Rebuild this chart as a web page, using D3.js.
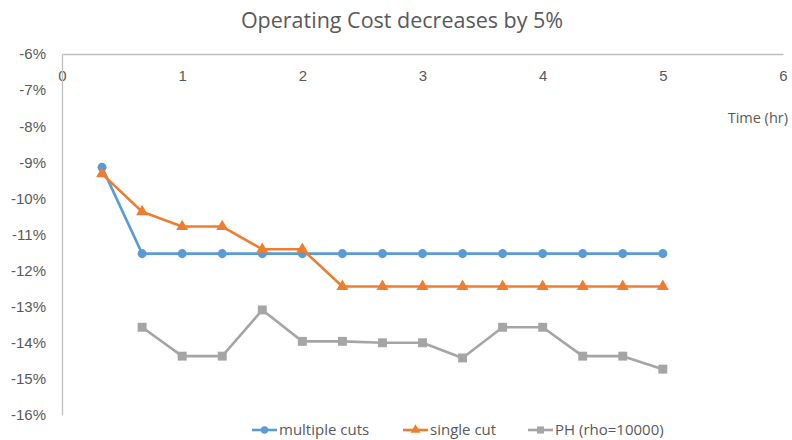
<!DOCTYPE html>
<html>
<head>
<meta charset="utf-8">
<script src="https://cdn.jsdelivr.net/npm/d3@7/dist/d3.min.js"></script>
<style>
  html, body { margin: 0; padding: 0; background: #fff; }
  svg { display: block; font-family: "Open Sans", "Noto Sans", sans-serif; }
</style>
</head>
<body>
<svg id="chart" width="792" height="440"></svg>
<script>
// Time in hours (every 20 minutes)
const times = [1/3, 2/3, 1, 4/3, 5/3, 2, 7/3, 8/3, 3, 10/3, 11/3, 4, 13/3, 14/3, 5];

// Change in operating cost (%)
const multipleCuts = [-9.14, -11.53, -11.53, -11.53, -11.53, -11.53, -11.53, -11.53, -11.53, -11.53, -11.53, -11.53, -11.53, -11.53, -11.53];
const singleCut    = [-9.32, -10.37, -10.78, -10.78, -11.41, -11.41, -12.44, -12.44, -12.44, -12.44, -12.44, -12.44, -12.44, -12.44, -12.44];
const phRho        = [null, -13.57, -14.37, -14.37, -13.09, -13.96, -13.96, -14.0, -14.0, -14.42, -13.57, -13.57, -14.37, -14.37, -14.73];

const xTicks = [0, 1, 2, 3, 4, 5, 6];
const yTicks = [-6, -7, -8, -9, -10, -11, -12, -13, -14, -15, -16];

const seriesNames = ["multiple cuts", "single cut", "PH (rho=10000)"];
const seriesColors = ["#5B9BD5", "#ED7D31", "#A5A5A5"];
const seriesShapes = [d3.symbolCircle, d3.symbolTriangle, d3.symbolSquare];

const svg = d3.select("#chart");
const x = d3.scaleLinear().domain([0, 6]).range([62, 783]);
const y = d3.scaleLinear().domain([-6, -16]).range([54, 415]);

const textColor = "#595959";
const axisColor = "#BFBFBF";

// Title
svg.append("text")
  .attr("x", 402).attr("y", 28)
  .attr("text-anchor", "middle")
  .attr("font-size", 21.5)
  .attr("fill", textColor)
  .text("Operating Cost decreases by 5%");

// Horizontal axis sits at the top (y = -6%)
const xAxis = svg.append("g")
  .attr("transform", `translate(0,${y(-6)})`)
  .call(d3.axisBottom(x).tickValues(xTicks).tickSize(0).tickPadding(16).tickFormat(d3.format("d")));
xAxis.select(".domain").attr("stroke", axisColor).attr("stroke-width", 1.3);
xAxis.selectAll("text").attr("fill", textColor).attr("font-size", 15).attr("font-family", null);

// Vertical axis line at x = 0, labels at the far left
const yAxis = svg.append("g")
  .attr("transform", `translate(${x(0)},0)`)
  .call(d3.axisLeft(y).tickValues(yTicks).tickSize(0).tickPadding(16).tickFormat(d => d + "%"));
yAxis.select(".domain").attr("stroke", axisColor).attr("stroke-width", 1.3);
yAxis.selectAll("text").attr("fill", textColor).attr("font-size", 15).attr("font-family", null);

// Axis title
svg.append("text")
  .attr("x", 788).attr("y", 123)
  .attr("text-anchor", "end")
  .attr("font-size", 14.5)
  .attr("fill", textColor)
  .text("Time (hr)");

// Series
const allSeries = [multipleCuts, singleCut, phRho];
const line = d3.line()
  .defined(d => d.v !== null)
  .x(d => x(d.t))
  .y(d => y(d.v));

allSeries.forEach((vals, i) => {
  const pts = times.map((t, j) => ({ t, v: vals[j] }));
  svg.append("path")
    .datum(pts)
    .attr("fill", "none")
    .attr("stroke", seriesColors[i])
    .attr("stroke-width", 2.6)
    .attr("stroke-linejoin", "round")
    .attr("d", line);
  const size = i === 0 ? 64 : (i === 1 ? 62 : 80);
  svg.append("g").selectAll("path")
    .data(pts.filter(d => d.v !== null))
    .join("path")
    .attr("transform", d => `translate(${x(d.t)},${y(d.v)})`)
    .attr("d", d3.symbol().type(seriesShapes[i]).size(size))
    .attr("fill", seriesColors[i]);
});

// Legend
const legendX = [252, 403, 528];
const legendY = 430;
seriesNames.forEach((name, i) => {
  const g = svg.append("g").attr("transform", `translate(${legendX[i]},${legendY})`);
  g.append("line").attr("x1", 0).attr("x2", 25).attr("y1", 0).attr("y2", 0)
    .attr("stroke", seriesColors[i]).attr("stroke-width", 2.6);
  g.append("path").attr("transform", "translate(12.5,0)")
    .attr("d", d3.symbol().type(seriesShapes[i]).size(i === 2 ? 50 : 42))
    .attr("fill", seriesColors[i]);
  g.append("text").attr("x", 27).attr("y", 5)
    .attr("font-size", 15).attr("fill", textColor)
    .text(name);
});
</script>
</body>
</html>
